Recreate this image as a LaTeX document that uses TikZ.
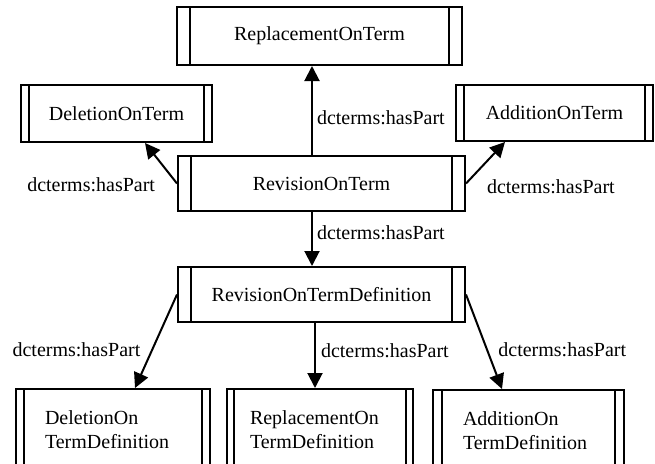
\documentclass[tikz,border=0pt]{standalone}
\usepackage{fontspec}
\setmainfont{Liberation Serif}
\usetikzlibrary{arrows.meta}
\begin{document}
\begin{tikzpicture}[x=1pt,y=-1pt,
  bar gap/.store in=\bargap, bar gap=8pt,
  % entity box with a bar near each side
  ent/.style={draw, line width=2pt, rectangle, inner sep=0pt,
    font=\fontsize{20}{24}\selectfont,
    path picture={
      \draw[line width=2pt]
        ([xshift=\bargap]path picture bounding box.north west) --
        ([xshift=\bargap]path picture bounding box.south west);
      \draw[line width=2pt]
        ([xshift=-\bargap]path picture bounding box.north east) --
        ([xshift=-\bargap]path picture bounding box.south east);
    }},
  twoline/.style={align=left, text width=#1},
  link/.style={line width=2pt, -{Triangle[length=15pt,width=15pt]}},
  rel/.style={font=\fontsize{20}{24}\selectfont, inner sep=0pt},
]
\clip (0,0) rectangle (655,463);
\fill[white] (0,0) rectangle (655,463);

% upper level
\node[ent, bar gap=13pt, minimum width=285pt, minimum height=58pt] (rep) at (319.5,36) {ReplacementOnTerm};
\node[ent, bar gap=8pt, minimum width=191pt, minimum height=57pt] (del) at (116.5,113.5) {DeletionOnTerm};
\node[ent, bar gap=8pt, minimum width=197pt, minimum height=56pt] (add) at (554.5,113) {AdditionOnTerm};
\node[ent, bar gap=13pt, minimum width=287pt, minimum height=55pt] (rev) at (321.5,183.5) {RevisionOnTerm};

% definition level
\node[ent, bar gap=13pt, minimum width=287pt, minimum height=55pt] (rdef) at (321.5,294.5) {RevisionOnTermDefinition};
\node[ent, twoline=136pt, bar gap=8pt, minimum width=194pt, minimum height=82pt] (ddef) at (113,430) {DeletionOn\\TermDefinition};
\node[ent, twoline=140pt, bar gap=7pt, minimum width=186pt, minimum height=82pt] (pdef) at (320,430) {ReplacementOn\\TermDefinition};
\node[ent, twoline=131pt, bar gap=9pt, minimum width=191pt, minimum height=82pt] (adef) at (528.5,431) {AdditionOn\\TermDefinition};

% hasPart links
\draw[link] ([xshift=-9.5pt]rev.north) -- ([xshift=-7.5pt]rep.south)
  node[rel, pos=0.42, anchor=west, xshift=4pt] {dcterms:hasPart};
\draw[link] (rev.west) -- ([xshift=28.5pt]del.south)
  node[rel, pos=0, anchor=east, xshift=-21pt, yshift=-1.5pt] {dcterms:hasPart};
\draw[link] (rev.east) -- ([xshift=-49.5pt]add.south)
  node[rel, pos=0, anchor=west, xshift=20pt, yshift=-3.5pt] {dcterms:hasPart};
\draw[link] ([xshift=-9.5pt]rev.south) -- ([xshift=-9.5pt]rdef.north)
  node[rel, pos=0.39, anchor=west, xshift=4pt] {dcterms:hasPart};
\draw[link] (rdef.west) -- ([xshift=22pt]ddef.north)
  node[rel, pos=0.587, anchor=east, xshift=-11pt] {dcterms:hasPart};
\draw[link] ([xshift=-6.5pt]rdef.south) -- ([xshift=-5pt]pdef.north)
  node[rel, pos=0.43, anchor=west, xshift=5pt] {dcterms:hasPart};
\draw[link] (rdef.east) -- ([xshift=-26.5pt]adef.north)
  node[rel, pos=0.58, anchor=west, xshift=10.5pt] {dcterms:hasPart};
\end{tikzpicture}
\end{document}
